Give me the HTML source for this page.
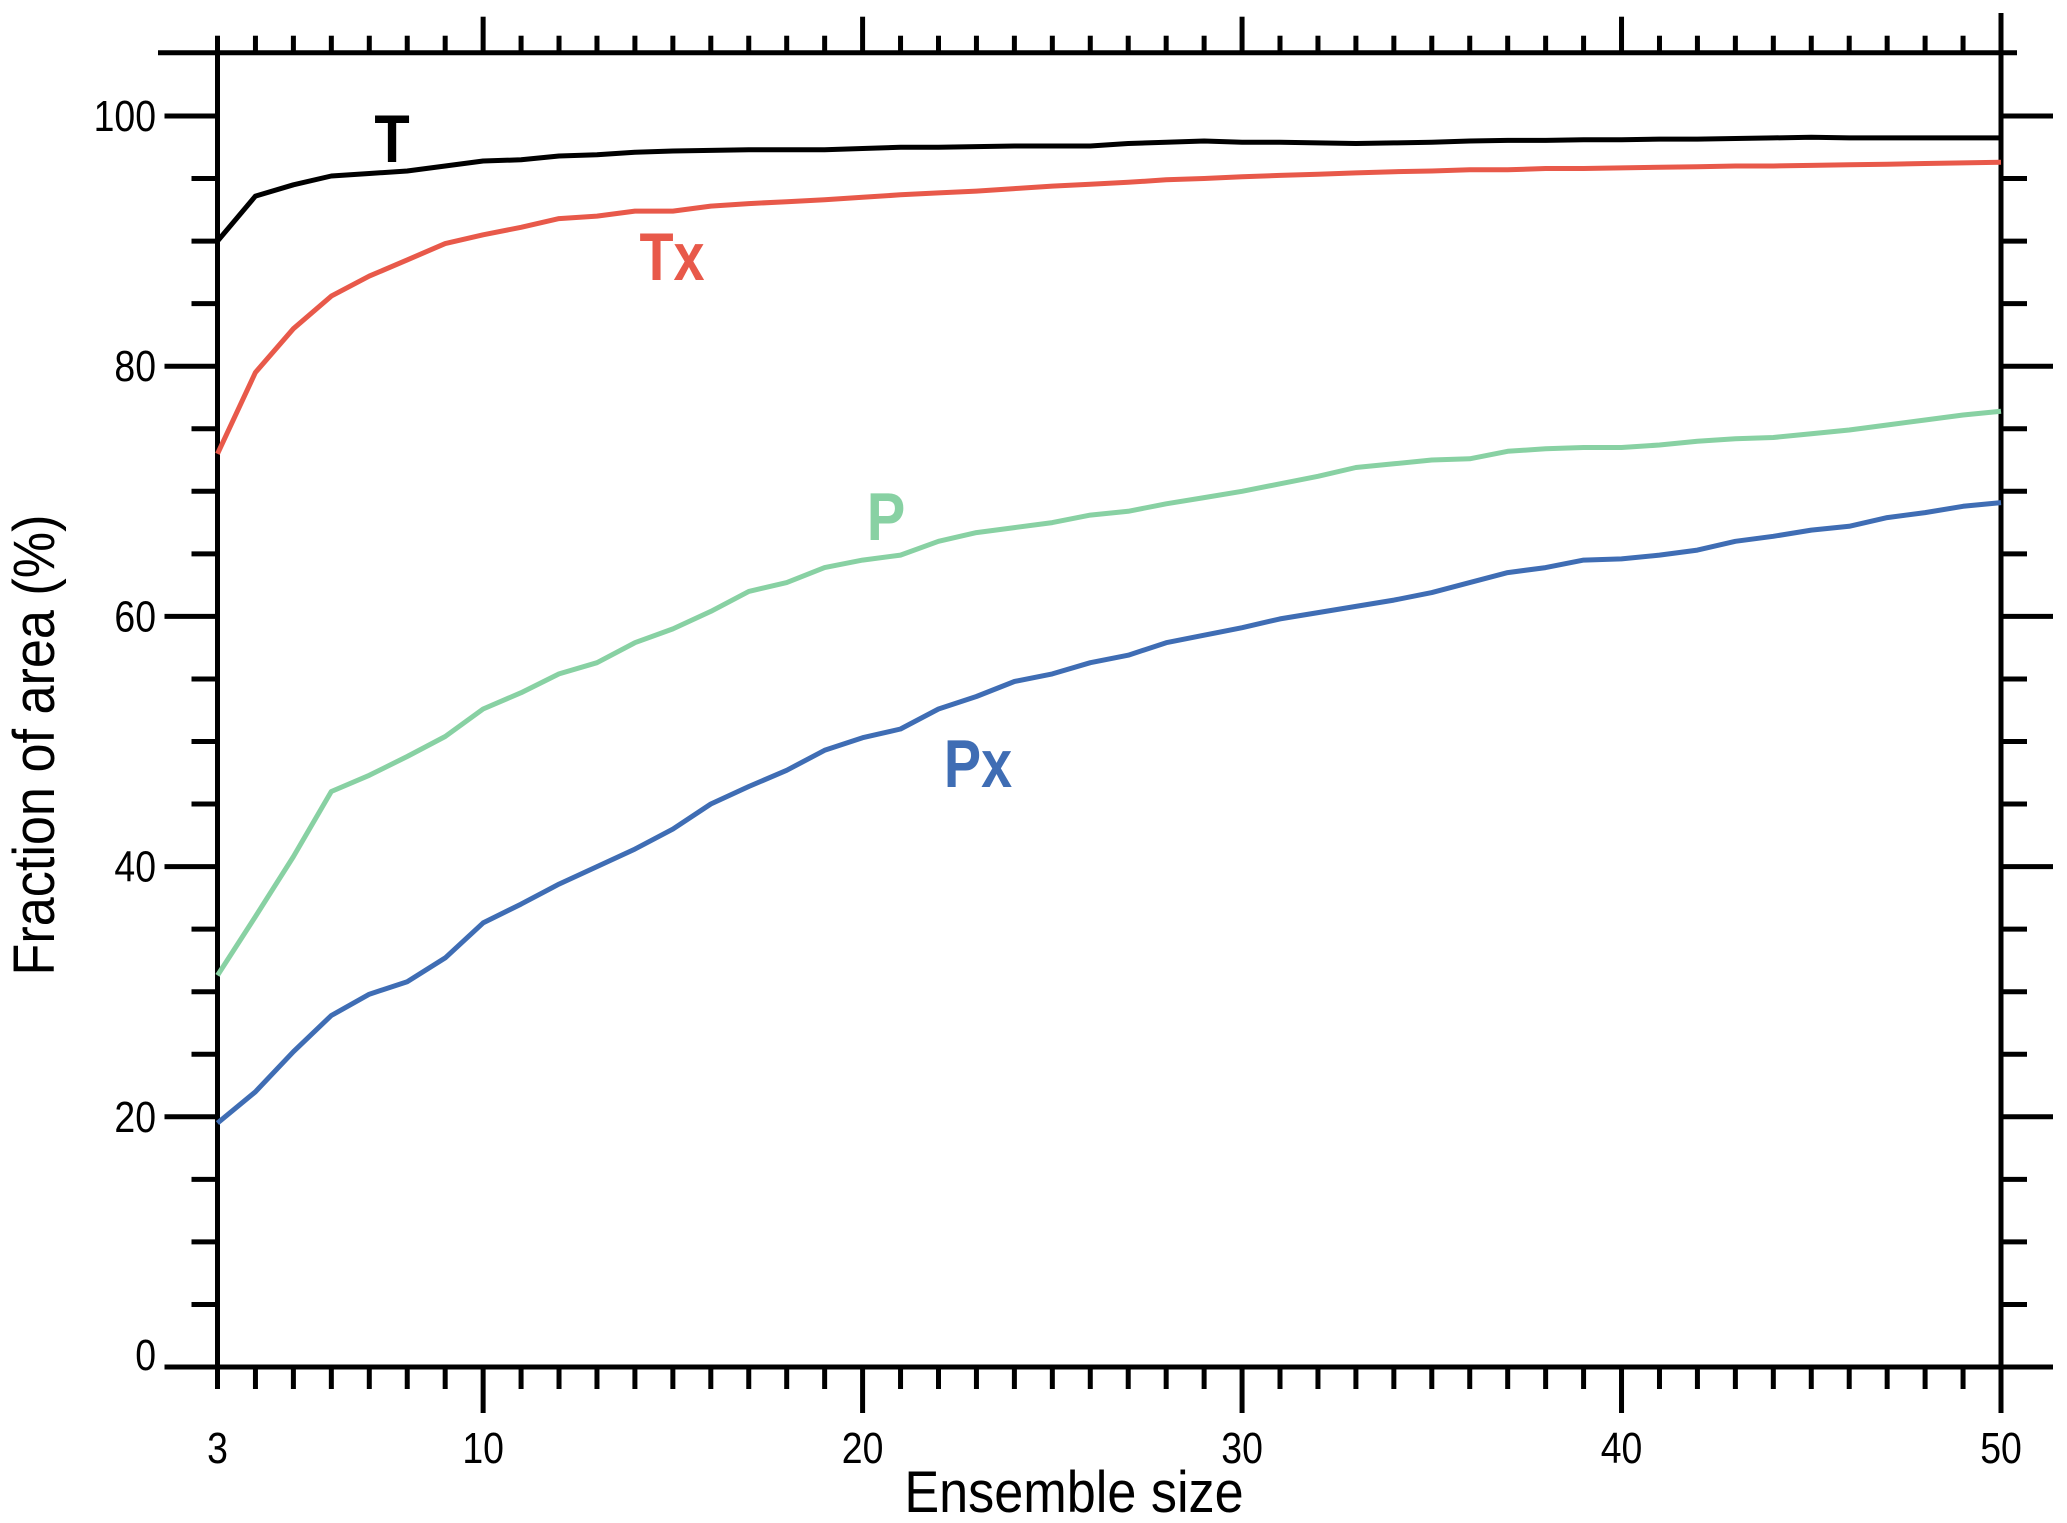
<!DOCTYPE html>
<html><head><meta charset="utf-8"><style>
html,body{margin:0;padding:0;background:#fff;}
svg{display:block;font-family:"Liberation Sans",Arial,sans-serif;}
</style></head><body>
<svg id="chart" width="2067" height="1523" viewBox="0 0 2067 1523" xmlns="http://www.w3.org/2000/svg">
<g id="axes"></g>
<g id="series"></g>
<text x="0" y="0" font-size="58" text-anchor="middle" transform="translate(1074 1512) scale(0.9 1)">Ensemble size</text>
<text x="0" y="0" font-size="58" text-anchor="middle" transform="translate(54 745) rotate(-90) scale(0.9 1)">Fraction of area (%)</text>
<text x="0" y="0" font-size="68" font-weight="bold" text-anchor="middle" fill="#000" transform="translate(392 162) scale(0.85 1)">T</text>
<text x="0" y="0" font-size="68" font-weight="bold" text-anchor="middle" fill="#e8594a" transform="translate(672 280) scale(0.82 1)">Tx</text>
<text x="0" y="0" font-size="68" font-weight="bold" text-anchor="middle" fill="#88d1a3" transform="translate(886 540) scale(0.85 1)">P</text>
<text x="0" y="0" font-size="68" font-weight="bold" text-anchor="middle" fill="#3f6db4" transform="translate(978 787) scale(0.82 1)">Px</text>
</svg>
<script>
const ensembleSizes = [];
for (let n = 3; n <= 50; n++) ensembleSizes.push(n);
const seriesT = [90,93.6,94.5,95.2,95.4,95.6,96.0,96.4,96.5,96.8,96.9,97.1,97.2,97.25,97.3,97.3,97.3,97.4,97.5,97.5,97.55,97.6,97.6,97.6,97.8,97.9,98.0,97.9,97.9,97.85,97.8,97.85,97.9,98.0,98.05,98.05,98.1,98.1,98.15,98.15,98.2,98.25,98.3,98.25,98.25,98.25,98.25,98.25];
const seriesTx = [73,79.5,83,85.6,87.2,88.5,89.8,90.5,91.1,91.8,92.0,92.4,92.4,92.8,93.0,93.15,93.3,93.5,93.7,93.85,94.0,94.2,94.4,94.55,94.7,94.9,95.0,95.15,95.25,95.35,95.45,95.55,95.6,95.7,95.7,95.8,95.8,95.85,95.9,95.95,96.0,96.0,96.05,96.1,96.15,96.2,96.25,96.3];
const seriesP = [31.3,36,40.8,46,47.3,48.8,50.4,52.6,53.9,55.4,56.3,57.9,59,60.4,62,62.7,63.9,64.5,64.9,66.0,66.7,67.1,67.5,68.1,68.4,69.0,69.5,70.0,70.6,71.2,71.9,72.2,72.5,72.6,73.2,73.4,73.5,73.5,73.7,74.0,74.2,74.3,74.6,74.9,75.3,75.7,76.1,76.4];
const seriesPx = [19.5,22,25.2,28.1,29.8,30.8,32.7,35.5,37,38.6,40,41.4,43,45,46.4,47.7,49.3,50.3,51,52.6,53.6,54.8,55.4,56.3,56.9,57.9,58.5,59.1,59.8,60.3,60.8,61.3,61.9,62.7,63.5,63.9,64.5,64.6,64.9,65.3,66,66.4,66.9,67.2,67.9,68.3,68.8,69.1];
const xTickLabels = [3,10,20,30,40,50];
const yTickLabels = [0,20,40,60,80,100];

const NS = "http://www.w3.org/2000/svg";
const X0 = 217.5, X1 = 2001, Y0 = 1367, Y100 = 116, TOP = 52.7;
const xs = v => X0 + (v - 3) * (X1 - X0) / 47;
const ys = v => Y0 - v * (Y0 - Y100) / 100;
const axes = document.getElementById('axes');
function line(x1,y1,x2,y2,name){
  const l = document.createElementNS(NS,'line');
  l.setAttribute('x1',x1);l.setAttribute('y1',y1);l.setAttribute('x2',x2);l.setAttribute('y2',y2);
  l.setAttribute('stroke','#000');l.setAttribute('stroke-width',5);
  
  
  axes.appendChild(l);
}
line(X0, TOP, X0, Y0, 'left-axis');
line(X1, 13, X1, Y0, 'right-axis');
line(158, TOP, 2017, TOP, 'top-axis');
line(165, Y0, 2017, Y0, 'bottom-axis');
for (let n = 3; n <= 50; n++) {
  const major = n % 10 === 0;
  const x = xs(n);
  line(x, Y0, x, Y0 + (major ? 46 : 22), 'x-tick');
  if (n < 50) line(x, TOP, x, TOP - (major ? 36 : 17), 'top-tick');
}
for (let v = 0; v <= 100; v += 5) {
  const major = v % 20 === 0;
  const y = ys(v);
  line(X0 - (major ? 53 : 26), y, X0, y, 'y-tick');
  line(X1, y, X1 + (major ? 52 : 26), y, 'right-tick');
}
xTickLabels.forEach(v => {
  const t = document.createElementNS(NS,'text');
  t.setAttribute('x', 0); t.setAttribute('y', 0);
  t.setAttribute('transform', 'translate(' + xs(v) + ' 1463) scale(0.85 1)');
  t.setAttribute('font-size', 44); t.setAttribute('text-anchor','middle');
  t.textContent = v;
  
  
  axes.appendChild(t);
});
yTickLabels.forEach(v => {
  const t = document.createElementNS(NS,'text');
  t.setAttribute('x', 0); t.setAttribute('y', 0);
  t.setAttribute('transform', 'translate(156 ' + (ys(v) + 15 - (v===0?12:0)) + ') scale(0.85 1)');
  t.setAttribute('font-size', 44); t.setAttribute('text-anchor','end');
  t.textContent = v;
  
  
  axes.appendChild(t);
});
const seriesG = document.getElementById('series');
[[seriesT,'#000','line-T'],[seriesTx,'#e8594a','line-Tx'],[seriesP,'#88d1a3','line-P'],[seriesPx,'#3f6db4','line-Px']].forEach(([arr,col,name]) => {
  const p = document.createElementNS(NS,'polyline');
  p.setAttribute('points', arr.map((v,i) => xs(ensembleSizes[i]).toFixed(1)+','+ys(v).toFixed(1)).join(' '));
  p.setAttribute('fill','none'); p.setAttribute('stroke',col); p.setAttribute('stroke-width',5);
  p.setAttribute('stroke-linejoin','round');
  
  
  seriesG.appendChild(p);
});
</script>
</body></html>
